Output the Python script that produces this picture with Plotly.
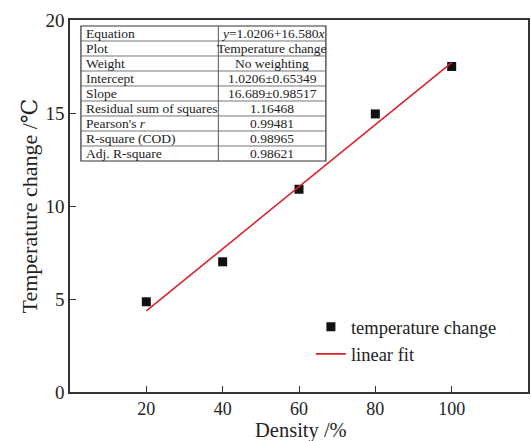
import plotly.graph_objects as go

density = [20, 40, 60, 80, 100]
temp_change = [4.85, 7.0, 10.9, 14.95, 17.5]
fit_x = [20, 100]
fit_y = [4.36, 17.71]

table_labels = ["Equation", "Plot", "Weight", "Intercept", "Slope",
                "Residual sum of squares", "Pearson's <i>r</i>", "R-square (COD)", "Adj. R-square"]
table_values = ["<i>y</i>=1.0206+16.580<i>x</i>", "Temperature change", "No weighting",
                "1.0206±0.65349", "16.689±0.98517", "1.16468", "0.99481", "0.98965", "0.98621"]

serif = "Liberation Serif, DejaVu Serif, serif"

fig = go.Figure()
fig.add_trace(go.Scatter(x=density, y=temp_change, mode="markers", name="temperature change",
                         marker=dict(symbol="square", size=9, color="#111111")))
fig.add_trace(go.Scatter(x=fit_x, y=fit_y, mode="lines", name="linear fit",
                         line=dict(color="#d8232a", width=1.6)))

# table drawn in paper coordinates
tx0, tx1, txs = 0.0239, 0.5587, 0.3239
ty_top, ty_bot = 0.9839, 0.621
n = len(table_labels)
rh = (ty_top - ty_bot) / n
shapes = []
shapes.append(dict(type="rect", xref="paper", yref="paper", x0=tx0, x1=tx1, y0=ty_bot, y1=ty_top,
                   line=dict(color="#333", width=1.2), fillcolor="white", layer="above"))
shapes.append(dict(type="line", xref="paper", yref="paper", x0=txs, x1=txs, y0=ty_bot, y1=ty_top,
                   line=dict(color="#555", width=1), layer="above"))
for i in range(1, n):
    yy = ty_top - i * rh
    shapes.append(dict(type="line", xref="paper", yref="paper", x0=tx0, x1=tx1, y0=yy, y1=yy,
                       line=dict(color="#666", width=0.9), layer="above"))
annotations = []
for i, (lab, val) in enumerate(zip(table_labels, table_values)):
    yc = ty_top - (i + 0.5) * rh
    annotations.append(dict(xref="paper", yref="paper", x=tx0 + 0.006, y=yc, text=lab,
                            xanchor="left", yanchor="middle", showarrow=False,
                            font=dict(family=serif, size=13.5, color="#222")))
    annotations.append(dict(xref="paper", yref="paper", x=(txs + tx1) / 2, y=yc, text=val,
                            xanchor="center", yanchor="middle", showarrow=False,
                            font=dict(family=serif, size=13.5, color="#222")))

# x-axis title as annotation near the bottom edge, as in the reference
annotations.append(dict(xref="paper", yref="paper", x=0.505, y=-0.068, text="Density /%",
                        xanchor="center", yanchor="top", showarrow=False,
                        font=dict(family=serif, size=20.5, color="#222")))

fig.update_layout(
    width=531, height=441,
    margin=dict(l=70, r=1, t=20, b=49),
    paper_bgcolor="white", plot_bgcolor="white",
    font=dict(family=serif, color="#222"),
    showlegend=True,
    shapes=shapes, annotations=annotations,
    legend=dict(x=0.526, y=0.225, xanchor="left", yanchor="top",
                font=dict(family=serif, size=18.5, color="#222"),
                bgcolor="rgba(0,0,0,0)", tracegroupgap=0, itemwidth=30),
)
fig.update_xaxes(range=[0, 120], tickvals=[20, 40, 60, 80, 100], ticks="inside", ticklen=6,
                 tickcolor="#333", showline=True, linecolor="#333", linewidth=1.5, mirror=True,
                 showgrid=False, zeroline=False, tickfont=dict(size=18, family=serif))
fig.update_yaxes(range=[0, 20], tickvals=[0, 5, 10, 15, 20], ticks="inside", ticklen=6,
                 tickcolor="#333", showline=True, linecolor="#333", linewidth=1.5, mirror=True,
                 showgrid=False, zeroline=False, tickfont=dict(size=19, family=serif),
                 title=dict(text="Temperature change /℃", font=dict(size=22, family=serif), standoff=2))

fig.write_html("out.html")
